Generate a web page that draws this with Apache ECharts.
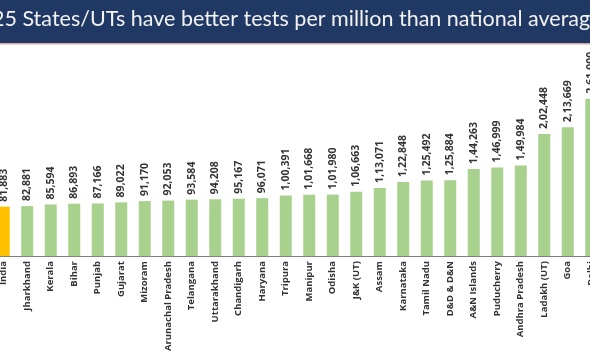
<!DOCTYPE html>
<html>
<head>
<meta charset="UTF-8">
<title>Tests per million</title>
<script src="https://cdn.jsdelivr.net/npm/echarts@6/dist/echarts.min.js"></script>
<style>
    html, body { margin: 0; padding: 0; background: #fff; overflow: hidden; }
    /* chart is wider than the window: first and last bars are cut like in the slide */
    #chart { width: 611px; height: 354px; position: relative; left: -8px; }
</style>
</head>
<body>
<div id="chart"></div>
<script>
    // data
    var states = ['India', 'Jharkhand', 'Kerala', 'Bihar', 'Punjab', 'Gujarat', 'Mizoram',
        'Arunachal Pradesh', 'Telangana', 'Uttarakhand', 'Chandigarh', 'Haryana', 'Tripura',
        'Manipur', 'Odisha', 'J&K (UT)', 'Assam', 'Karnataka', 'Tamil Nadu', 'D&D & D&N',
        'A&N Islands', 'Puducherry', 'Andhra Pradesh', 'Ladakh (UT)', 'Goa', 'Delhi'];
    var testsPerMillion = [81883, 82881, 85594, 86893, 87166, 89022, 91170,
        92053, 93584, 94208, 95167, 96071, 100391,
        101668, 101980, 106663, 113071, 122848, 125492, 125884,
        144263, 146999, 149984, 202448, 213669, 261000];
    var titleText = '25 States/UTs have better tests per million than national average';

    // indian digit grouping: 1,00,391
    function inr(n) {
        var s = String(Math.round(n));
        if (s.length <= 3) return s;
        var last3 = s.slice(-3);
        var rest = s.slice(0, -3).replace(/\B(?=(\d{2})+(?!\d))/g, ',');
        return rest + ',' + last3;
    }

    var barData = testsPerMillion.map(function (v, i) {
        return {
            value: v,
            itemStyle: { color: i === 0 ? '#ffc000' : '#a9d18e' }
        };
    });

    var myChart = echarts.init(document.getElementById('chart'));
    var option = {
        animation: false,
        grid: { left: 0, right: 0, top: 45, bottom: 97 },
        xAxis: {
            type: 'category',
            data: states,
            axisTick: { show: false },
            axisLine: { lineStyle: { color: '#7f7f7f', width: 1 } },
            axisLabel: {
                rotate: 90,
                interval: 0,
                margin: 5,
                fontSize: 9.5,
                fontWeight: 'bold',
                fontFamily: 'Open Sans',
                color: '#333'
            }
        },
        yAxis: {
            type: 'value',
            min: 0,
            max: 350000,
            show: false,
            splitLine: { show: false }
        },
        series: [{
            type: 'bar',
            data: barData,
            barWidth: 12,
            label: {
                show: true,
                position: 'top',
                rotate: 90,
                align: 'left',
                verticalAlign: 'middle',
                distance: 5,
                fontSize: 10.5,
                fontWeight: 'bold',
                fontFamily: 'Open Sans',
                color: '#333',
                formatter: function (p) { return inr(p.value); }
            }
        }],
        graphic: [
            {
                type: 'rect', z: 100,
                shape: { x: 0, y: 0, width: 611, height: 43 },
                style: { fill: '#1f3864' }
            },
            {
                type: 'rect', z: 100,
                shape: { x: 0, y: 43, width: 611, height: 1.5 },
                style: { fill: '#d8aaa2' }
            },
            {
                type: 'text', z: 101,
                left: 0, top: 8,
                style: {
                    text: titleText,
                    fill: '#f2f2f2',
                    font: '21.5px Lato'
                }
            }
        ]
    };
    myChart.setOption(option);
</script>
</body>
</html>
